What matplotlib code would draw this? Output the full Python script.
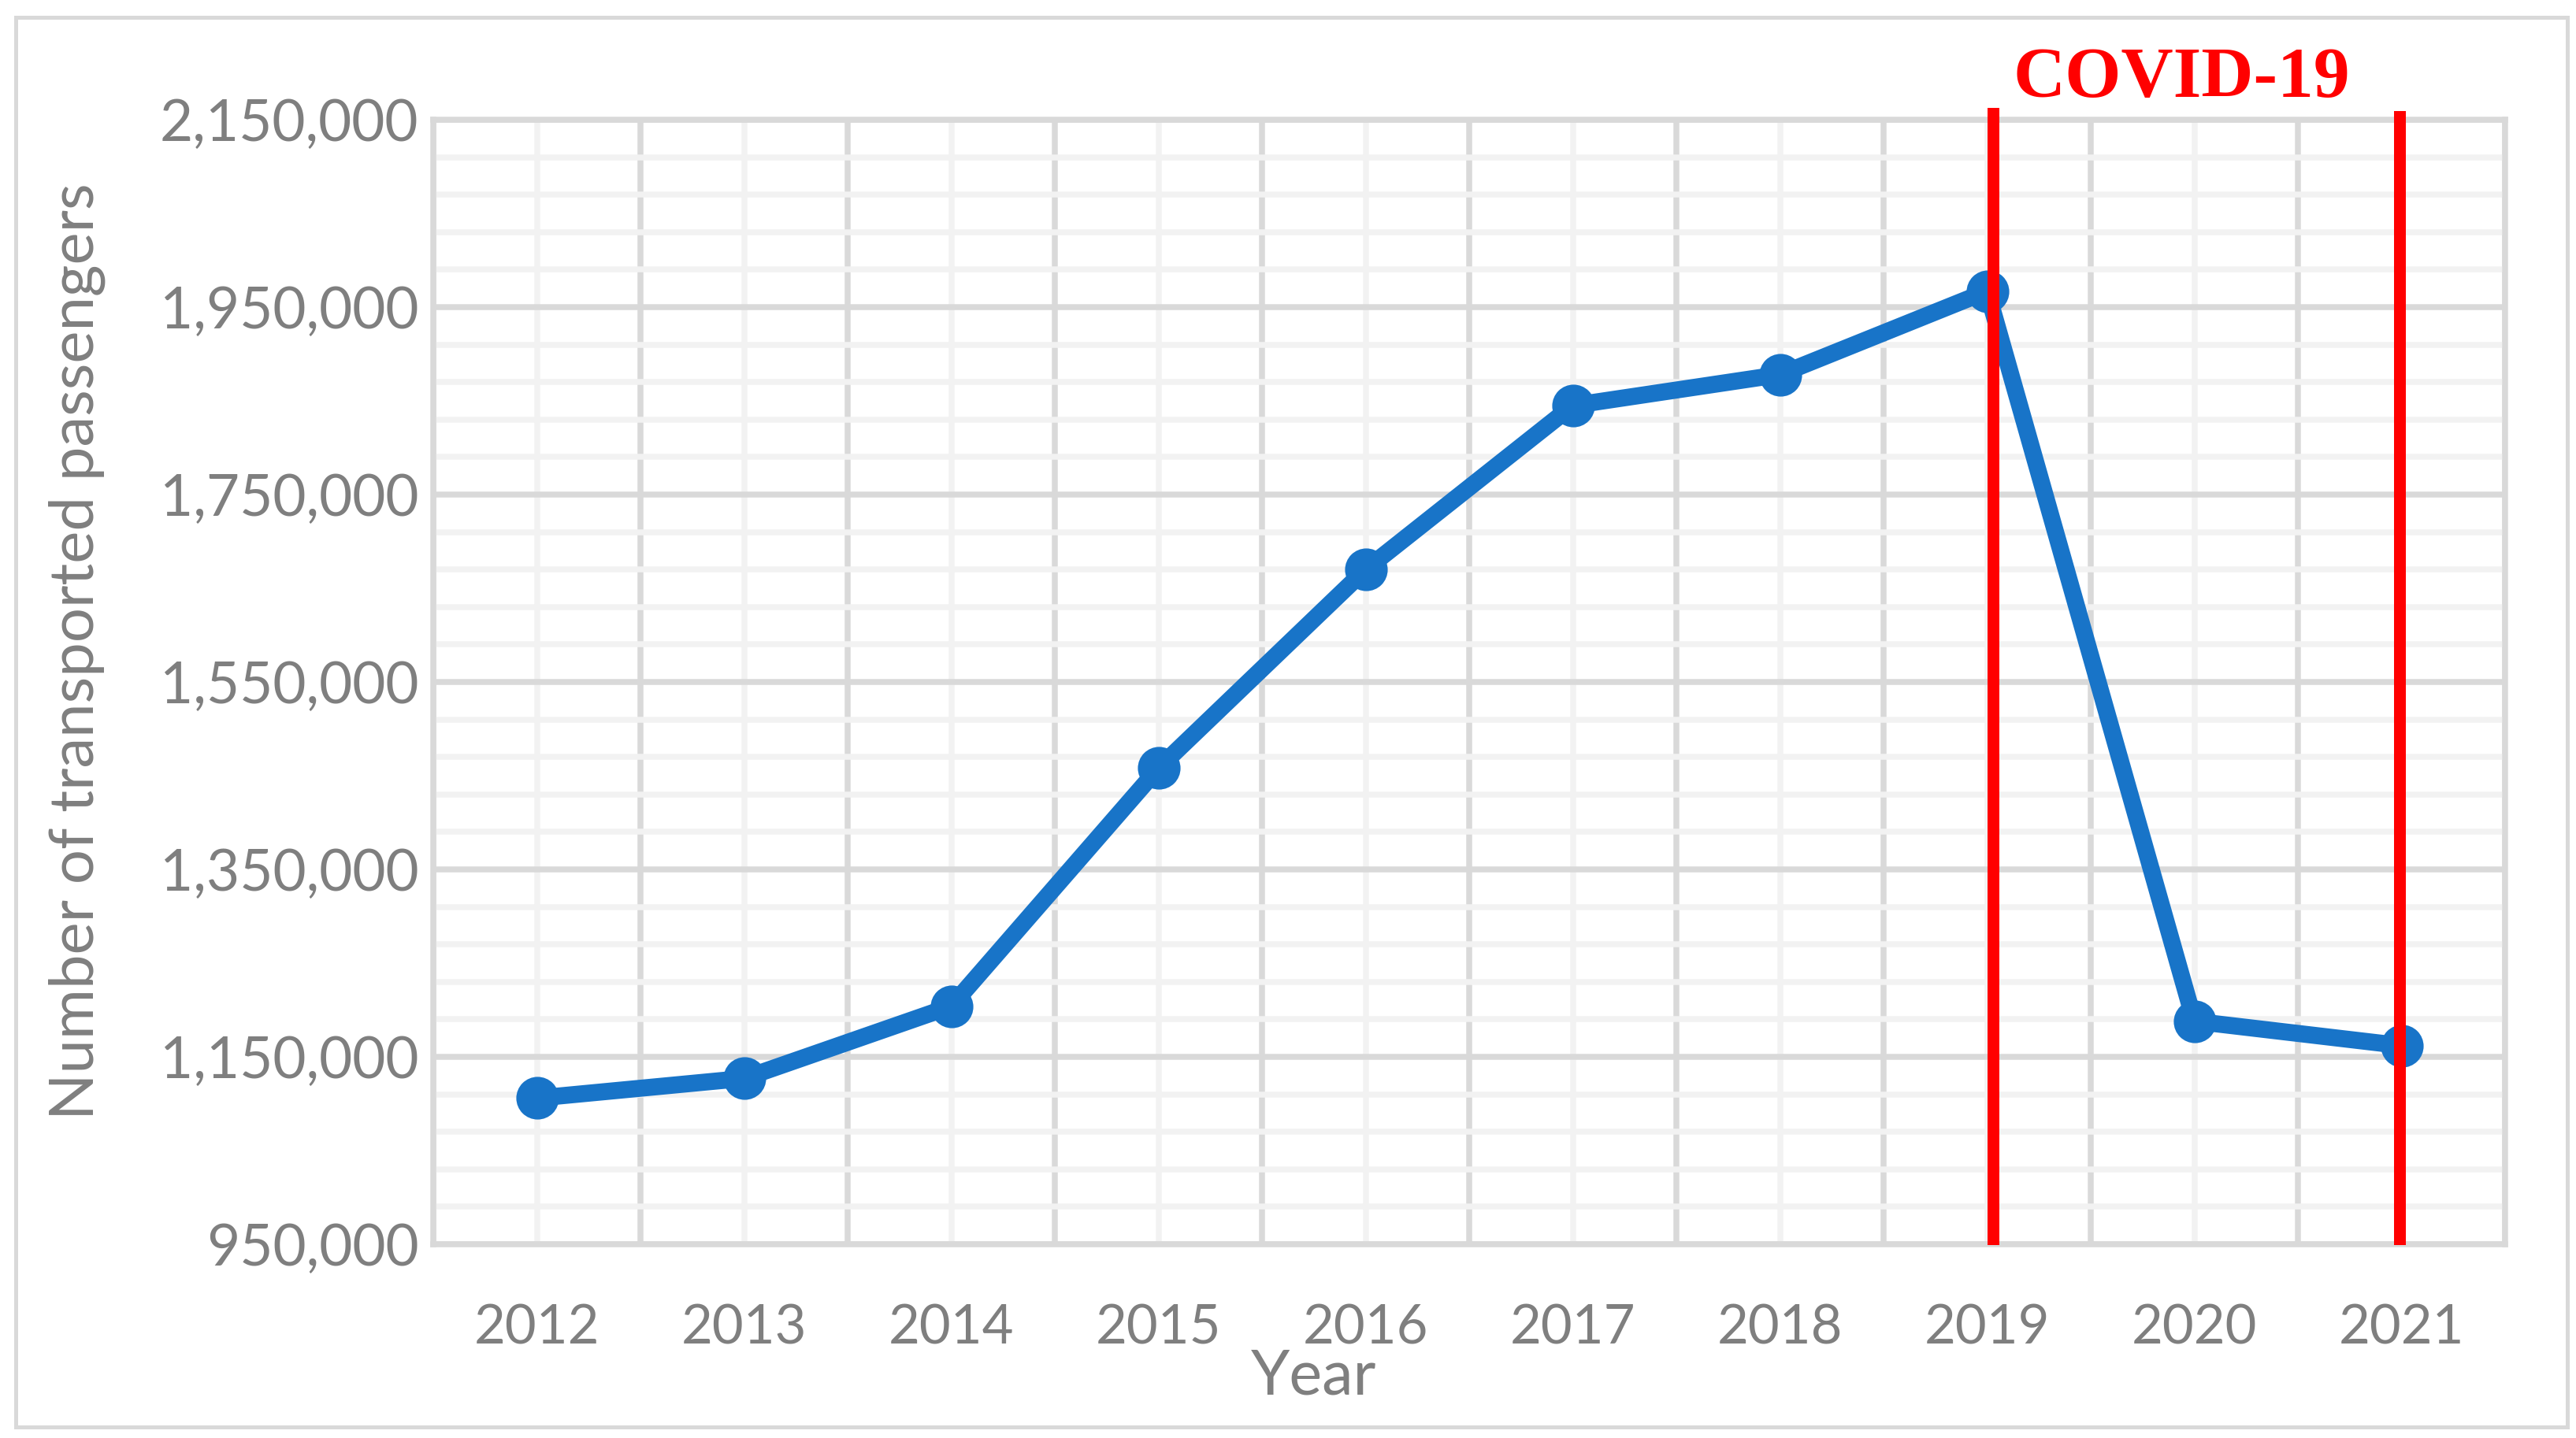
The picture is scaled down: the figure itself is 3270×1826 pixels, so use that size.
import numpy as np
import matplotlib
matplotlib.use("Agg")
import matplotlib.pyplot as plt
from matplotlib.patches import Rectangle
from matplotlib.ticker import FixedLocator, FuncFormatter

# 데이터
years = ['2012', '2013', '2014', '2015', '2016', '2017', '2018', '2019', '2020', '2021']
passengers = [1106000, 1127000, 1204000, 1458000, 1670000, 1845000, 1878000, 1967000, 1188000, 1162000]
covid_years = [7.03, 8.99]
y_ticks = [950000, 1150000, 1350000, 1550000, 1750000, 1950000, 2150000]

plt.rcParams['font.family'] = ['Lato', 'DejaVu Sans']

fig = plt.figure(figsize=(10.9, 6.0867), dpi=300)
ax = fig.add_axes([0.1682, 0.1347, 0.8043, 0.7821])

x = np.arange(len(years))
ax.plot(x, passengers, color='#1874C8', linewidth=5.2, marker='o', markersize=12, zorder=3,
        solid_capstyle='round')

# 빨간 세로선 (COVID-19 구간)
ax.plot([covid_years[0], covid_years[0]], [956000, 2157000], color='#FF0000', linewidth=3.6,
        zorder=4, clip_on=False)
ax.plot([covid_years[1], covid_years[1]], [955500, 2153600], color='#FF0000', linewidth=3.6,
        zorder=4, clip_on=False)

ax.text(0.844, 1.036, 'COVID-19', transform=ax.transAxes, color='#FF0000', fontsize=22,
        fontweight='bold', family=['Liberation Serif', 'DejaVu Serif'], ha='center', va='center')

ax.set_xlim(-0.5, len(years) - 0.5)
ax.set_ylim(950000, 2150000)

ax.set_xticks(x)
ax.set_xticklabels(years)
ax.xaxis.set_minor_locator(FixedLocator(np.arange(-0.5, len(years), 1.0)))
ax.yaxis.set_major_locator(FixedLocator(y_ticks))
ax.yaxis.set_minor_locator(FixedLocator(np.arange(950000, 2150001, 40000)))
ax.yaxis.set_major_formatter(FuncFormatter(lambda v, p: '{:,.0f}'.format(v)))

ax.grid(which='minor', axis='y', color='#F2F2F2', linewidth=1.8, zorder=0)
ax.grid(which='major', axis='x', color='#F2F2F2', linewidth=1.8, zorder=0)
ax.grid(which='minor', axis='x', color='#D9D9D9', linewidth=1.8, zorder=1)
ax.grid(which='major', axis='y', color='#D9D9D9', linewidth=1.8, zorder=1)
ax.set_axisbelow(True)

ax.tick_params(which='both', length=0)
ax.tick_params(axis='y', pad=4.5, labelsize=17.5, labelcolor='#7F7F7F')
ax.tick_params(axis='x', pad=18, labelsize=16.5, labelcolor='#7F7F7F')

for s in ax.spines.values():
    s.set_color('#D9D9D9')
    s.set_linewidth(1.8)

ax.set_ylabel('Number of transported passengers', fontsize=18.7, color='#7F7F7F')
ax.yaxis.set_label_coords(-0.172, 0.527)
ax.yaxis.label.set_va('center')
ax.set_xlabel('Year', fontsize=19, color='#7F7F7F')
ax.xaxis.set_label_coords(0.425, -0.118)
ax.xaxis.label.set_va('center')

# 바깥 테두리
fig.patches.append(Rectangle((20 / 3270, 1 - 1812 / 1826), (3259 - 20) / 3270, (1812 - 22) / 1826,
                             transform=fig.transFigure, fill=False, edgecolor='#D9D9D9',
                             linewidth=1.2))

plt.savefig('out.png', dpi=300)
